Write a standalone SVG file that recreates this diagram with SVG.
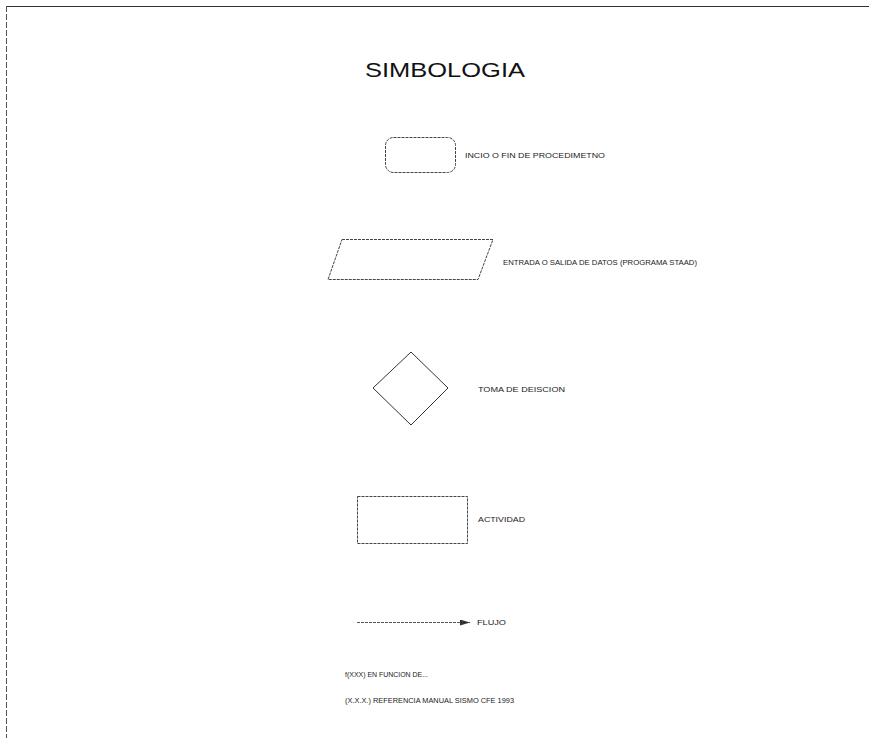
<svg xmlns="http://www.w3.org/2000/svg" width="869" height="738" viewBox="0 0 869 738">
<defs>
<style>
.t{font-family:"Liberation Sans",Arial,sans-serif;font-size:8px;fill:#222}
.s{fill:none;stroke:#333;stroke-width:1}
.d{fill:none;stroke:#444;stroke-width:1;stroke-dasharray:3 1}
</style>
<marker id="ah" viewBox="0 0 10 6" refX="10" refY="3" markerWidth="10" markerHeight="6" markerUnits="userSpaceOnUse" orient="auto">
<path d="M0,0 L10,3 L0,6 z" fill="#333"/>
</marker>
</defs>
<rect width="869" height="738" fill="#fff"/>
<g id="frame">
<line x1="6" y1="6.5" x2="869" y2="6.5" stroke="#333" stroke-width="1"/>
<line x1="6.5" y1="6" x2="6.5" y2="738" stroke="#555" stroke-width="1" stroke-dasharray="6 2"/>
</g>
<g id="title"><text x="365" y="77" font-family="Liberation Sans,Arial,sans-serif" font-size="21" textLength="160" lengthAdjust="spacingAndGlyphs" fill="#111">SIMBOLOGIA</text></g>
<g id="inicio">
<rect class="d" x="385.5" y="137.5" width="70" height="35" rx="8"/>
<text class="t" x="465" y="158" textLength="140" lengthAdjust="spacingAndGlyphs">INCIO O FIN DE PROCEDIMETNO</text>
</g>
<g id="entrada">
<polygon class="d" points="342,239.5 493,239.5 478,279.5 328,279.5"/>
<text class="t" x="503" y="265" textLength="194" lengthAdjust="spacingAndGlyphs">ENTRADA O SALIDA DE DATOS (PROGRAMA STAAD)</text>
</g>
<g id="decision">
<polygon class="s" points="411,352 448,388 411,425 373,388"/>
<text class="t" x="478" y="392" textLength="87" lengthAdjust="spacingAndGlyphs">TOMA DE DEISCION</text>
</g>
<g id="actividad">
<rect class="d" x="357.5" y="496.5" width="110" height="47"/>
<text class="t" x="478" y="522" textLength="47" lengthAdjust="spacingAndGlyphs">ACTIVIDAD</text>
</g>
<g id="connectors">
<line x1="357" y1="622.5" x2="470" y2="622.5" stroke="#555" stroke-width="1" stroke-dasharray="3 1" marker-end="url(#ah)"/>
</g>
<g id="flujo"><text class="t" x="477" y="625" textLength="29" lengthAdjust="spacingAndGlyphs">FLUJO</text></g>
<g id="notas">
<text class="t" x="345" y="677" textLength="83" lengthAdjust="spacingAndGlyphs">f(XXX)  EN FUNCION DE...</text>
<text class="t" x="345" y="703" textLength="169" lengthAdjust="spacingAndGlyphs">(X.X.X.)  REFERENCIA MANUAL SISMO CFE 1993</text>
</g>
</svg>
